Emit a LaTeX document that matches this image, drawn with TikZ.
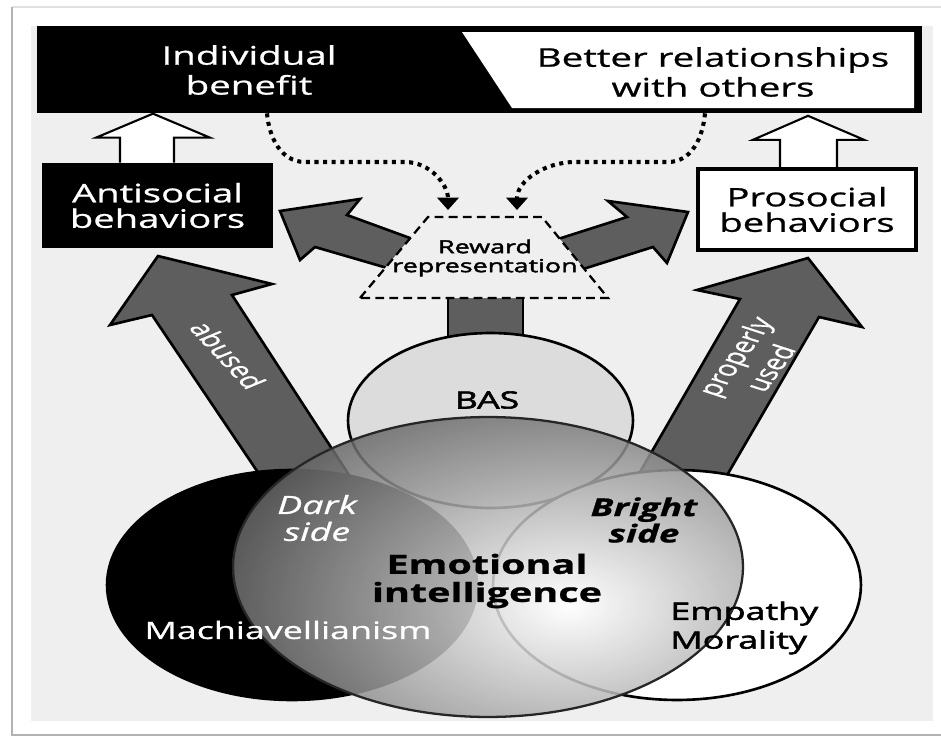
\documentclass[tikz,border=0pt]{standalone}
\usepackage{fontspec}
\setmainfont{Open Sans}[FakeStretch=1.5,FakeBold=0.9]
\newfontfamily\semibold{Open Sans}[FakeStretch=1.5,FakeBold=2.4]
\newfontfamily\upright{Open Sans}[FakeBold=0.6]
\usetikzlibrary{arrows.meta,calc}
\definecolor{panel}{HTML}{EFEFEF}
\definecolor{arrowgray}{HTML}{5E5E5E}
\definecolor{basgray}{HTML}{DCDCDC}
\tikzset{
  blockarrow/.style={fill=arrowgray,draw=black,line width=1.5pt,line join=miter},
  hollowarrow/.style={fill=white,draw=black,line width=1.2pt,line join=miter},
  rewardlink/.style={line width=2.3pt,dash pattern=on 2.3pt off 2.6pt,-{Triangle[length=7pt,width=12pt]}},
  venn/.style={draw=black,line width=1.5pt},
  barlabel/.style={font=\fontsize{14.6pt}{17pt}\selectfont,align=center},
  boxlabel/.style={minimum width=4.62cm,minimum height=1.7cm,inner sep=0pt,align=center,font=\fontsize{14.5pt}{14.5pt}\selectfont},
  sidelabel/.style={align=center,font=\fontsize{14.3pt}{15.3pt}\selectfont\itshape},
  uselabel/.style={text=white,align=center,xscale=1.5,font=\upright\fontsize{12.3pt}{15pt}\selectfont}
}

\begin{document}
\begin{tikzpicture}[x=0.02cm,y=-0.02cm]
\useasboundingbox (0,0) rectangle (941,738);
% frame and panel
\fill[white] (0,0) rectangle (941,738);
\draw[black!12,line width=0.6pt] (12,7) -- (941,7);
\draw[black!30,line width=1.2pt] (12,7) -- (12,735) -- (941,735);
\fill[panel] (31,26) rectangle (933,721);

% top bar
\node[fill=black,minimum width=17.7cm,minimum height=1.74cm,inner sep=0pt] (bar) at (479.5,69.5) {};
\fill[white] (462,32) -- (914,32) -- (914,108) -- (512,108) -- cycle;
\node[barlabel,text=white] (benefit) at (249,70) {Individual\\benefit};
\node[barlabel] (relations) at (713,72) {Better relationships\\with others};

% behaviour boxes
\node[boxlabel,fill=black,text=white] (anti) at (157.5,205.5) {Antisocial\\behaviors};
\node[boxlabel,fill=white,draw=black,line width=2.5pt,minimum width=4.36cm,minimum height=1.62cm] (pro) at (807,209.5) {Prosocial\\behaviors};

\draw[hollowarrow] ($(anti.north)+(-37.5,0)$) -- ++(0,-25) -- ++(-24,0) -- ++(57,-24) -- ++(57,24) -- ++(-36,0) -- ++(0,25);
\draw[hollowarrow] ($(pro.north)+(-27,0)$) -- ++(0,-27) -- ++(-27,0) -- ++(55,-24) -- ++(56,24) -- ++(-27,0) -- ++(0,27);

% arrows leaving the reward box
\draw[blockarrow] (440,249) -- (347,215) -- (360,199) -- (280,211) -- (300,260) -- (315,247) -- (425,279) -- cycle;
\draw[blockarrow] (530,248) -- (627,217) -- (608,201) -- (688,212) -- (667,263) -- (653,247) -- (545,281) -- cycle;
\draw[blockarrow] (448,290) rectangle (523,360);

% reward representation
\draw[fill=panel,line width=1.3pt,dash pattern=on 5pt off 3pt] (360,298) -- (428,217) coordinate (rtl) -- (542,217) coordinate (rtr) -- (608,298) -- cycle;
\node[font=\semibold\fontsize{10.2pt}{10.8pt}\selectfont,align=center] (reward) at (485,258) {Reward\\representation};

\draw[rewardlink] ($(bar.south)+(-212.5,0)$) to[out=-85,in=180] (305,162) -- (405,162) to[out=0,in=90] ($(rtl)+(20,-7)$);
\draw[rewardlink] ($(bar.south)+(225.5,0)$) to[out=-95,in=0] (668,162) -- (575,162) to[out=180,in=90] ($(rtr)+(-25,-7)$);

% abused / properly used
\draw[blockarrow] (290,520) -- (152,315) -- (110,325) -- (158,256) -- (272,284) -- (232,295) -- (362,495) -- cycle;
\draw[blockarrow] (625,498) -- (740,299) -- (697,290) -- (808,258) -- (862,327) -- (819,317) -- (701,520) -- cycle;
\node[uselabel,rotate=-58] (abused) at (228,355) {abused};
\node[uselabel,rotate=64] (properly) at (752,362) {properly\\used};

% venn part
\draw[venn,fill=basgray] (490.5,420.5) ellipse [x radius=2.85cm,y radius=1.75cm];
\draw[venn,fill=black] (292,585) ellipse [x radius=3.7cm,y radius=2.3cm];
\draw[venn,fill=white] (677,585) ellipse [x radius=3.68cm,y radius=2.3cm];
\begin{scope}
  \clip (488,567) ellipse [x radius=5.1cm,y radius=3cm];
  \shade[inner color=white,outer color=black!64,fill opacity=0.85] (568,605) ellipse [x radius=7.6cm,y radius=4.6cm];
\end{scope}
\draw[line width=1.3pt,black!85] (488,567) ellipse [x radius=5.1cm,y radius=3cm];

\node[font=\semibold\fontsize{13.5pt}{13.5pt}\selectfont] (bas) at (487,400) {BAS};
\node[sidelabel,text=white] (dark) at (317,518) {Dark\\side};
\node[sidelabel,font=\bfseries\itshape\fontsize{14pt}{15pt}\selectfont] (bright) at (644,520) {Bright\\side};
\node[align=center,font=\bfseries\fontsize{15pt}{16pt}\selectfont] (ei) at (487,581) {Emotional\\intelligence};
\node[text=white,font=\fontsize{13.6pt}{14pt}\selectfont] (mach) at (288,630) {Machiavellianism};
\node[anchor=west,inner sep=0pt,align=left,font=\semibold\fontsize{13.6pt}{16.4pt}\selectfont] (empathy) at (670,628) {Empathy\\Morality};
\end{tikzpicture}
\end{document}
